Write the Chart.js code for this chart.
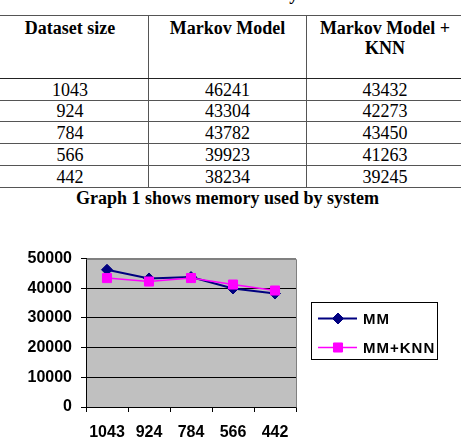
<!DOCTYPE html>
<html><head><meta charset="utf-8">
<script src="https://cdn.jsdelivr.net/npm/chart.js@4/dist/chart.umd.min.js"></script>
<style>
html,body{margin:0;padding:0;background:#fff;width:461px;height:444px;overflow:hidden;position:relative;}
.serif{font-family:"Liberation Serif","Times New Roman",serif;color:#000;}
#ttl{position:absolute;left:0;width:461px;top:-16px;text-align:center;font-weight:bold;font-size:18px;line-height:20px;}
#cap{position:absolute;left:0;width:455px;top:188px;text-align:center;font-weight:bold;font-size:18px;line-height:20px;}
#tbl{position:absolute;left:-9px;top:15px;width:472px;border-collapse:collapse;table-layout:fixed;font-size:18px;line-height:20px;}
#tbl td,#tbl th{border:1px solid #555;padding:0;text-align:center;}
#tbl th{vertical-align:top;padding-top:2px;font-weight:bold;}
#tbl tr.hd th{border-bottom:1px solid #222;}
#wrap{position:absolute;left:0;top:240px;width:461px;height:204px;}
</style>
</head><body>
<div id="ttl" class="serif">Table 1 shows memory used</div>
<table id="tbl" class="serif"><colgroup><col style="width:157px"><col style="width:158px"><col style="width:157px"></colgroup><tbody id="tb"></tbody></table>
<div id="cap" class="serif">Graph 1 shows memory used by system</div>
<div id="wrap"><canvas id="c" width="461" height="204"></canvas></div>
<script>
const headers = ['Dataset size', 'Markov Model', 'Markov Model +<br>KNN'];
const categories = ['1043', '924', '784', '566', '442'];
const markovModel = [46241, 43304, 43782, 39923, 38234];
const markovKnn = [43432, 42273, 43450, 41263, 39245];
const seriesNames = ['MM', 'MM+KNN'];
const yTicks = [0, 10000, 20000, 30000, 40000, 50000];

// table
const tb = document.getElementById('tb');
let html = '<tr class="hd" style="height:63px">' + headers.map(h => '<th>' + h + '</th>').join('') + '</tr>';
const rh = [22, 21, 22, 22, 22];
categories.forEach((c, i) => {
  html += '<tr style="height:' + rh[i] + 'px"><td>' + c + '</td><td>' + markovModel[i] + '</td><td>' + markovKnn[i] + '</td></tr>';
});
tb.innerHTML = html;

const SANS = '"Liberation Sans", Arial, sans-serif';

const plotBg = {
  id: 'plotBg',
  beforeDraw(chart) {
    const {ctx, chartArea: a} = chart;
    ctx.save();
    ctx.fillStyle = '#c0c0c0';
    ctx.fillRect(a.left, a.top, a.right - a.left, a.bottom - a.top);
    ctx.restore();
  },
  beforeDatasetsDraw(chart) {
    const {ctx, chartArea: a} = chart;
    ctx.save();
    ctx.strokeStyle = '#808080';
    ctx.lineWidth = 1;
    ctx.beginPath();
    ctx.moveTo(Math.round(a.left) + 0.5, Math.round(a.top) + 0.5);
    ctx.lineTo(Math.round(a.right) + 0.5, Math.round(a.top) + 0.5);
    ctx.lineTo(Math.round(a.right) + 0.5, Math.round(a.bottom) + 0.5);
    ctx.stroke();
    ctx.restore();
  }
};

const legendBox = {
  id: 'legendBox',
  afterDraw(chart) {
    const ctx = chart.ctx;
    ctx.save();
    ctx.fillStyle = '#fff';
    ctx.fillRect(311.5, 62.5, 126, 57);
    ctx.strokeStyle = '#000';
    ctx.lineWidth = 1;
    ctx.strokeRect(311.5, 62.5, 126, 57);
    chart.data.datasets.forEach((ds, i) => {
      const y = 78.5 + i * 29;
      ctx.strokeStyle = ds.borderColor;
      ctx.lineWidth = ds.borderWidth;
      ctx.beginPath();
      ctx.moveTo(318, y);
      ctx.lineTo(357, y);
      ctx.stroke();
      ctx.fillStyle = ds.pointBackgroundColor;
      ctx.strokeStyle = ds.pointBorderColor;
      ctx.lineWidth = 1;
      Chart.helpers.drawPoint(ctx, {pointStyle: ds.pointStyle, radius: ds.pointRadius, borderWidth: 1, rotation: 0}, 338, y);
      ctx.fillStyle = '#000';
      ctx.font = 'bold 15px ' + SANS;
      ctx.textBaseline = 'middle';
      ctx.textAlign = 'left';
      try { ctx.letterSpacing = '1px'; } catch (e) {}
      ctx.fillText(ds.label, 363, y + 1);
    });
    ctx.restore();
  }
};

new Chart(document.getElementById('c'), {
  type: 'line',
  data: {
    labels: categories,
    datasets: [
      {label: seriesNames[0], data: markovModel, borderColor: '#000080', backgroundColor: '#000080',
       borderWidth: 2, pointStyle: 'rectRot', pointRadius: 5.5, pointBorderWidth: 1,
       pointBackgroundColor: '#000080', pointBorderColor: '#000080', tension: 0, order: 2},
      {label: seriesNames[1], data: markovKnn, borderColor: '#ff00ff', backgroundColor: '#ff00ff',
       borderWidth: 1.5, pointStyle: 'rect', pointRadius: 6.4, pointBorderWidth: 1,
       pointBackgroundColor: '#ff00ff', pointBorderColor: '#ff00ff', tension: 0, order: 1}
    ]
  },
  options: {
    responsive: false,
    animation: false,
    devicePixelRatio: 1,
    layout: {padding: {top: 18, right: 165, left: 0, bottom: 0}},
    plugins: {legend: {display: false}, tooltip: {enabled: false}, title: {display: false}},
    scales: {
      x: {
        offset: true,
        grid: {offset: true, drawOnChartArea: false, drawTicks: true, tickLength: 5, tickColor: '#000'},
        border: {color: '#000', width: 1},
        ticks: {color: '#000', font: {family: SANS, size: 16, weight: 'bold'}, padding: 11, maxRotation: 0, autoSkip: false},
        afterFit(s) { s.height = 37; }
      },
      y: {
        min: yTicks[0], max: yTicks[yTicks.length - 1],
        afterBuildTicks(s) { s.ticks = yTicks.map(v => ({value: v})); },
        grid: {color: c => (c.tick && c.tick.value === yTicks[yTicks.length - 1]) ? '#808080' : '#000', tickColor: '#000', tickLength: 5, lineWidth: 1},
        border: {color: '#000', width: 1},
        ticks: {color: '#000', font: {family: SANS, size: 16, weight: 'bold'}, padding: 9, callback: v => String(v)},
        afterFit(s) { s.width = 86; }
      }
    }
  },
  plugins: [plotBg, legendBox]
});
</script>
</body></html>
